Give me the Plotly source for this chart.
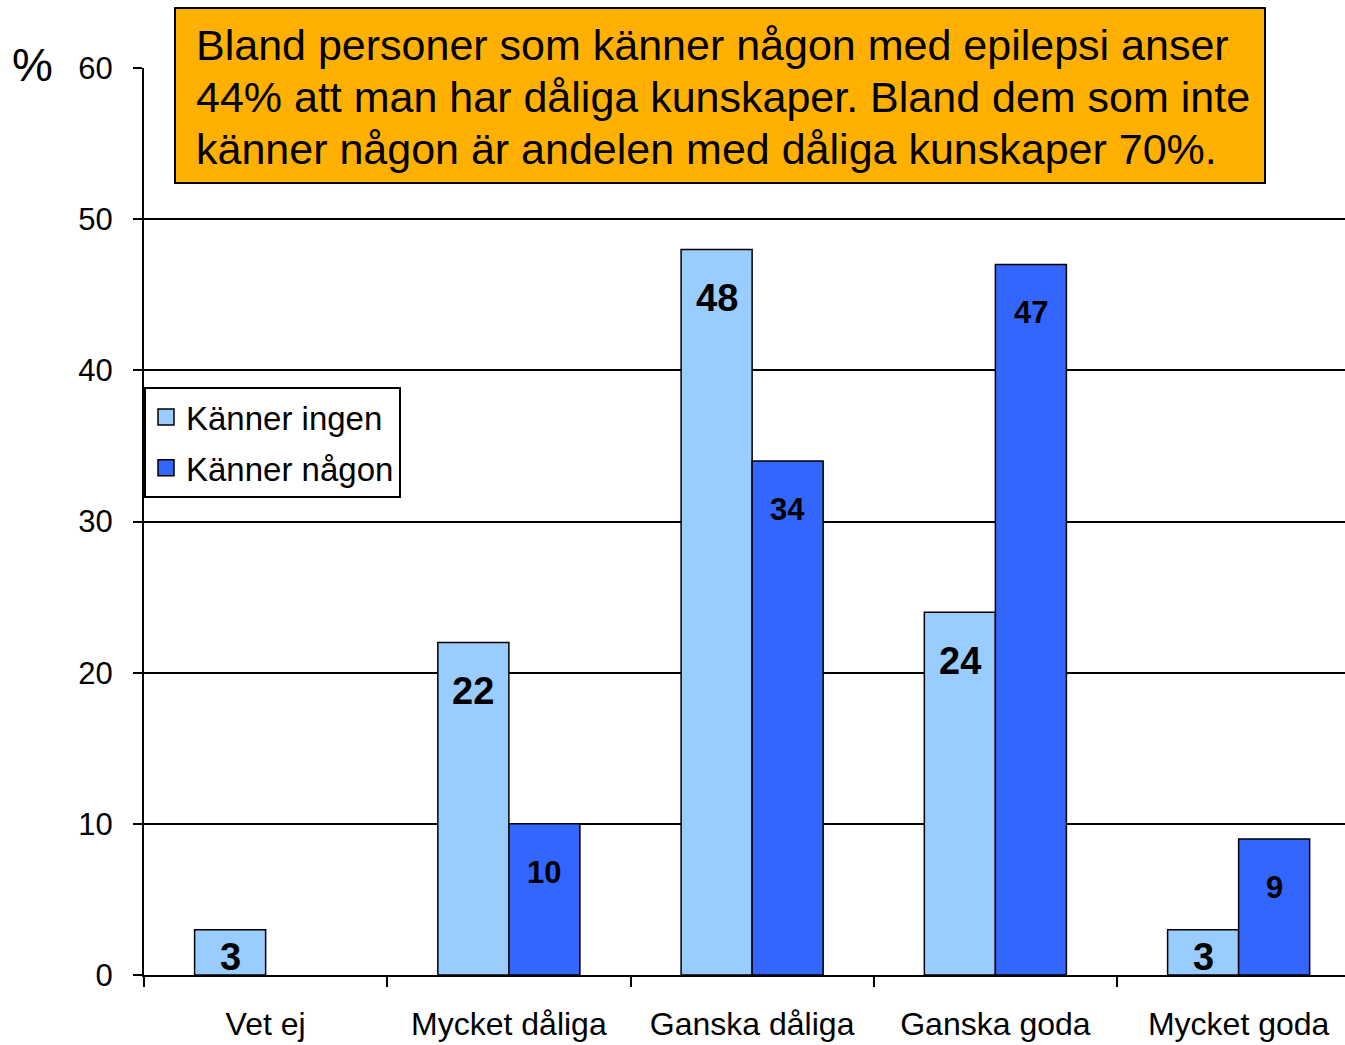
import plotly.graph_objects as go

categories = ["Vet ej", "Mycket dåliga", "Ganska dåliga", "Ganska goda", "Mycket goda"]
kanner_ingen = [3, 22, 48, 24, 3]
kanner_nagon = [None, 10, 34, 47, 9]
series_names = ["Känner ingen", "Känner någon"]
colors = ["#99CCFF", "#3366FF"]
y_ticks = [0, 10, 20, 30, 40, 50, 60]
title_lines = [
    "Bland personer som känner någon med epilepsi anser",
    "44% att man har dåliga kunskaper. Bland dem som inte",
    "känner någon är andelen med dåliga kunskaper 70%.",
]

W, H = 1345, 1045
L, T, B = 144, 68, 70  # plot left, top, bottom margins
plot_w = W - L
cat_px = 243.25
x_end = -0.5 + plot_w / cat_px
plot_h = H - T - B
FONT = "Liberation Sans, Arial"

def px_x(px):
    return (px - L) / plot_w

def px_y(py):
    return (H - B - py) / plot_h

fig = go.Figure()
for name, vals, col in zip(series_names, [kanner_ingen, kanner_nagon], colors):
    fig.add_trace(go.Bar(
        x=categories, y=vals, name=name, showlegend=False,
        marker=dict(color=col, line=dict(color="black", width=1.5)),
        hoverinfo="skip",
    ))
    fig.add_trace(go.Scatter(
        x=[None], y=[None], mode="markers", name=name, legendgroup=name,
        marker=dict(symbol="square", size=19, color=col, line=dict(color="black", width=1.5)),
    ))

bar_px = cat_px * 0.292
annotations = []
label_sizes = [38, 31]
for si, vals in enumerate([kanner_ingen, kanner_nagon]):
    shift = (-0.5 if si == 0 else 0.5) * bar_px
    for c, v in zip(categories, vals):
        if v is None:
            continue
        yy = v - 3.2 if v >= 6 else v / 2 - 0.3
        annotations.append(dict(
            x=c, y=yy, xref="x", yref="y", xshift=shift, text=str(v), showarrow=False,
            font=dict(family=FONT, size=label_sizes[si], color="black", weight="bold"),
            xanchor="center", yanchor="middle",
        ))

for i, line in enumerate(title_lines):
    annotations.append(dict(
        x=px_x(194), y=px_y(45 + 52 * i), xref="paper", yref="paper",
        xanchor="left", yanchor="middle",
        text=line, showarrow=False, align="left",
        font=dict(family=FONT, size=43, color="black"),
    ))
annotations.append(dict(
    x=px_x(33), y=px_y(65), xref="paper", yref="paper", xanchor="center", yanchor="middle",
    text="%", showarrow=False,
    font=dict(family=FONT, size=46, color="black"),
))

fig.add_shape(type="rect", xref="paper", yref="paper",
              x0=px_x(175), x1=px_x(1265), y0=px_y(183), y1=px_y(8),
              fillcolor="#FFB000", line=dict(color="black", width=2), layer="above")

fig.update_layout(
    width=W, height=H,
    margin=dict(l=L, r=0, t=T, b=B, pad=0),
    paper_bgcolor="white", plot_bgcolor="white",
    barmode="group", bargap=0.416, bargroupgap=0,
    font=dict(family=FONT, size=32, color="black"),
    annotations=annotations,
    legend=dict(
        x=0, y=px_y(387), xanchor="left", yanchor="top",
        bgcolor="white", bordercolor="black", borderwidth=2,
        font=dict(size=33, family=FONT),
        itemwidth=30, tracegroupgap=5,
    ),
    xaxis=dict(
        type="category", range=[-0.5, x_end], tickson="boundaries",
        ticks="outside", ticklen=10, tickwidth=2, tickcolor="black",
        showline=True, linecolor="black", linewidth=2, showgrid=False,
        tickfont=dict(size=32), ticklabelstandoff=20,
    ),
    yaxis=dict(
        range=[0, 60], tickvals=y_ticks, ticks="outside", ticklen=9, tickwidth=2,
        tickcolor="black", showline=True, linecolor="black", linewidth=2,
        showgrid=True, gridcolor="black", gridwidth=2, zeroline=False,
        tickfont=dict(size=31), ticklabelstandoff=14,
    ),
)

fig.write_html("out.html", config={"displayModeBar": False},
               post_script="document.body.style.margin='0';")
